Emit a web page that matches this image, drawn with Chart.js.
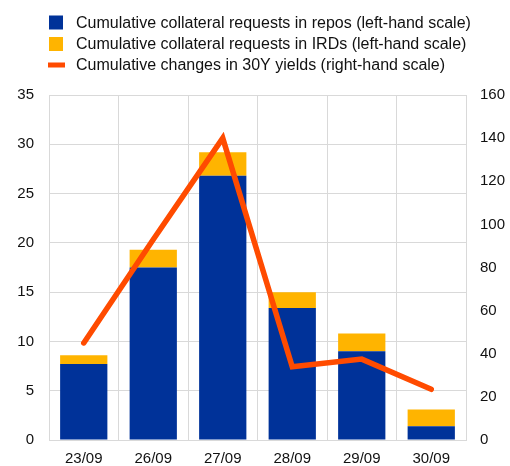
<!DOCTYPE html>
<html>
<head>
<meta charset="utf-8">
<script src="https://cdn.jsdelivr.net/npm/chart.js@4.4.0/dist/chart.umd.min.js"></script>
<style>
  html, body { margin: 0; padding: 0; background: #fff; }
  #wrap { width: 510px; height: 466px; }
</style>
</head>
<body>
<div id="wrap"><canvas id="myChart" width="510" height="466"></canvas></div>
<script>
// data
var labels = ["23/09", "26/09", "27/09", "28/09", "29/09", "30/09"];
var repos = [7.7, 17.5, 26.8, 13.4, 9.0, 1.4];
var irds = [0.9, 1.8, 2.4, 1.6, 1.8, 1.7];
var yields = [45, 93, 140, 34, 37.5, 23.5];
var leftTicks = [0, 35, 5];
var rightTicks = [0, 160, 20];

var BLUE = '#003299', YELLOW = '#ffb400', ORANGE = '#ff4b00', GRID = '#d9d9d9';
var FONT = "'Liberation Sans', Arial, sans-serif";

Chart.defaults.font.family = FONT;
Chart.defaults.font.size = 15;
Chart.defaults.color = '#111';

// legend drawn by hand so the boxes line up with the plot edge
var legendPlugin = {
  id: 'ownLegend',
  afterDraw: function(chart) {
    var ctx = chart.ctx;
    var ds = chart.data.datasets;
    var rows = [22.5, 44, 65];
    ctx.save();
    ctx.font = '16px ' + FONT;
    ctx.textBaseline = 'middle';
    for (var i = 0; i < ds.length; i++) {
      var y = rows[i];
      if (ds[i].type == 'line') {
        ctx.fillStyle = ds[i].borderColor;
        ctx.fillRect(48, y - 2.5, 17, 5);
      } else {
        ctx.fillStyle = ds[i].backgroundColor;
        ctx.fillRect(49, y - 7, 14, 14);
      }
      ctx.fillStyle = '#111';
      ctx.fillText(ds[i].label, 76, y + 1);
    }
    ctx.restore();
  }
};

new Chart("myChart", {
  type: "bar",
  data: {
    labels: labels,
    datasets: [
      {
        label: 'Cumulative collateral requests in repos (left-hand scale)',
        data: repos,
        backgroundColor: BLUE,
        yAxisID: 'y',
        order: 1
      },
      {
        label: 'Cumulative collateral requests in IRDs (left-hand scale)',
        data: irds,
        backgroundColor: YELLOW,
        yAxisID: 'y',
        order: 1
      },
      {
        type: 'line',
        label: 'Cumulative changes in 30Y yields (right-hand scale)',
        data: yields,
        yAxisID: 'y1',
        borderColor: ORANGE,
        backgroundColor: ORANGE,
        borderWidth: 5.5,
        pointRadius: 0,
        tension: 0,
        borderCapStyle: 'round',
        borderJoinStyle: 'miter',
        order: 0
      }
    ]
  },
  options: {
    responsive: false,
    animation: false,
    layout: { padding: { top: 95, left: 0, right: 0, bottom: 0 } },
    datasets: { bar: { categoryPercentage: 1, barPercentage: 0.68 } },
    plugins: {
      legend: { display: false },
      tooltip: { enabled: false }
    },
    scales: {
      x: {
        stacked: true,
        grid: { color: GRID, offset: true, drawTicks: false },
        border: { color: GRID },
        ticks: { padding: 10 },
        afterFit: function(s) { s.height = 26; }
      },
      y: {
        stacked: true,
        position: 'left',
        min: leftTicks[0], max: leftTicks[1],
        ticks: { stepSize: leftTicks[2], padding: 15 },
        grid: { color: GRID, drawTicks: false },
        border: { color: GRID },
        afterFit: function(s) { s.width = 49; }
      },
      y1: {
        position: 'right',
        min: rightTicks[0], max: rightTicks[1],
        ticks: { stepSize: rightTicks[2], padding: 14 },
        grid: { drawOnChartArea: false, drawTicks: false },
        border: { color: GRID },
        afterFit: function(s) { s.width = 44; }
      }
    }
  },
  plugins: [legendPlugin]
});
</script>
</body>
</html>
